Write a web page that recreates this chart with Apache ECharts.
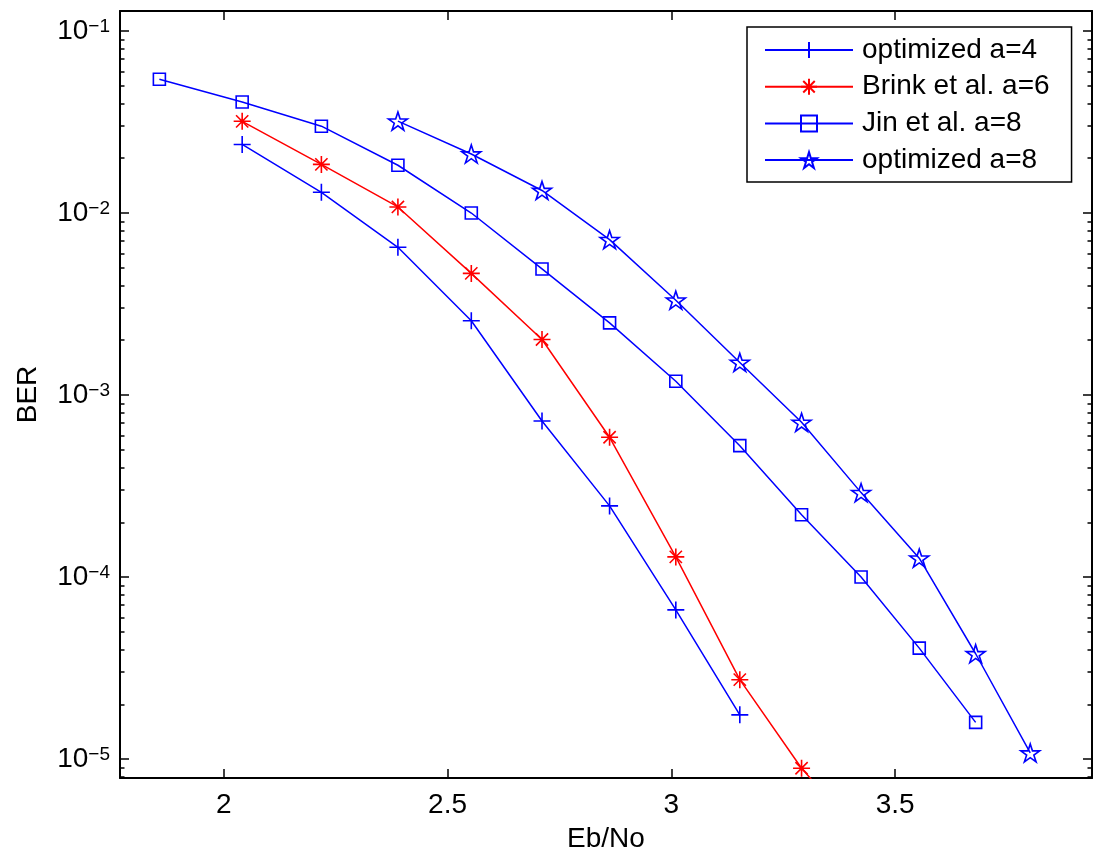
<!DOCTYPE html>
<html><head><meta charset="utf-8">
<script src="https://cdn.jsdelivr.net/npm/echarts@6/dist/echarts.min.js"></script>
<style>html,body{margin:0;padding:0;background:#fff;} #chart{width:1094px;height:857px;}</style>
</head><body><div id="chart"></div>
<script>
// ---- data ----
const xOptA4 = [2.041, 2.218, 2.389, 2.553, 2.711, 2.862, 3.010, 3.153];
const berOptA4 = [0.0238, 0.0130, 0.00648, 0.00256, 7.2e-4, 2.46e-4, 6.6e-5, 1.75e-5];

const xBrink = [2.041, 2.218, 2.389, 2.553, 2.711, 2.862, 3.010, 3.153, 3.291, 3.424];
const berBrink = [0.0319, 0.0185, 0.0108, 0.00466, 0.00202, 5.86e-4, 1.29e-4, 2.73e-5, 8.9e-6, 3.8e-6];

const xJin = [1.856, 2.041, 2.218, 2.389, 2.553, 2.711, 2.862, 3.010, 3.153, 3.291, 3.424, 3.554, 3.680];
const berJin = [0.0543, 0.0407, 0.0300, 0.0183, 0.0100, 0.00493, 0.00249, 0.00119, 5.27e-4, 2.2e-4, 1.0e-4, 4.07e-5, 1.59e-5];

const xOptA8 = [2.389, 2.553, 2.711, 2.862, 3.010, 3.153, 3.291, 3.424, 3.554, 3.680, 3.802];
const berOptA8 = [0.0320, 0.0211, 0.0133, 0.00714, 0.00332, 0.00151, 7.08e-4, 2.91e-4, 1.27e-4, 3.79e-5, 1.08e-5];

const seriesNames = ['optimized a=4', 'Brink et al. a=6', 'Jin et al. a=8', 'optimized a=8'];
const xRange = [1.768, 3.94];
const yRange = [7.87e-6, 0.1288];
const xTicks = [2, 2.5, 3, 3.5];
const minorMantissas = [2, 3, 4, 5, 6, 7, 8, 9];
const minorDecades = [-6, -5, -4, -3, -2, -1];

// ---- styling ----
const FONT = '"Liberation Sans", Arial, Helvetica, sans-serif';
const BLUE = '#0000ff', RED = '#ff0000';
const SYM_PLUS = 'path://M0,-1L0,1M-1,0L1,0';
const SYM_AST = 'path://M0,-1L0,1M-1,0L1,0M-0.72,-0.72L0.72,0.72M-0.72,0.72L0.72,-0.72';
const SYM_STAR = 'path://M0,-1L0.2245,-0.309L0.951,-0.309L0.3633,0.118L0.5878,0.809L0,0.382L-0.5878,0.809L-0.3633,0.118L-0.951,-0.309L-0.2245,-0.309Z';

const minorLog = [];
minorDecades.forEach(n => minorMantissas.forEach(m => {
  const v = m * Math.pow(10, n);
  if (v > yRange[0] && v < yRange[1]) minorLog.push(Math.log10(v));
}));

function mk(name, xs, ys, color, symbol, size) {
  return {
    type: 'line', name: name,
    data: xs.map((x, i) => [x, ys[i]]),
    xAxisIndex: 0, yAxisIndex: 0,
    symbol: symbol, symbolSize: size,
    color: color,
    lineStyle: { color: color, width: 1.5 },
    itemStyle: { color: 'none', borderColor: color, borderWidth: 1.6 },
    clip: true, animation: false
  };
}

const axisLineStyle = { show: true, onZero: false, lineStyle: { color: '#000', width: 2 } };
const majorTick = (vals) => ({ show: true, inside: true, length: 9, lineStyle: { color: '#000', width: 1.5 }, customValues: vals });

function yLabel(v) {
  const e = Math.log10(v);
  const r = Math.round(e);
  if (Math.abs(e - r) > 1e-3) return '';
  return '{b|10}{s|\u2212' + Math.abs(r) + '}';
}

const option = {
  backgroundColor: '#fff',
  animation: false,
  textStyle: { fontFamily: FONT, color: '#000' },
  grid: { left: 120, right: 2, top: 11, bottom: 79, containLabel: false, outerBoundsMode: 'none' },
  legend: {
    data: seriesNames,
    orient: 'vertical', left: 747, top: 27,
    itemWidth: 88, itemHeight: 20, itemGap: 8.7,
    padding: [9, 22, 8, 17],
    backgroundColor: '#fff', borderColor: '#000', borderWidth: 1.5,
    textStyle: { fontSize: 28, fontFamily: FONT, color: '#000', padding: [0, 0, 0, 4] },
    selectedMode: false
  },
  xAxis: [
    {
      type: 'value', min: xRange[0], max: xRange[1], position: 'bottom',
      axisLine: axisLineStyle, axisTick: majorTick(xTicks),
      axisLabel: { customValues: xTicks, fontSize: 28, fontFamily: FONT, color: '#000', margin: 13 },
      splitLine: { show: false },
      name: 'Eb/No', nameLocation: 'middle', nameGap: 47,
      nameTextStyle: { fontSize: 28, fontFamily: FONT, color: '#000' }
    },
    {
      type: 'value', min: xRange[0], max: xRange[1], position: 'top',
      axisLine: axisLineStyle, axisTick: majorTick(xTicks),
      axisLabel: { show: false }, splitLine: { show: false }
    }
  ],
  yAxis: [
    {
      type: 'log', min: yRange[0], max: yRange[1], position: 'left', logBase: 10,
      axisLine: axisLineStyle,
      axisTick: { show: true, inside: true, length: 9, lineStyle: { color: '#000', width: 1.5 } },
      axisLabel: {
        formatter: yLabel, margin: 10, color: '#000',
        rich: {
          b: { fontSize: 28, fontFamily: FONT, color: '#000', lineHeight: 28, padding: [10, 0, 0, 0], verticalAlign: 'bottom' },
          s: { fontSize: 19, fontFamily: FONT, color: '#000', lineHeight: 19, verticalAlign: 'top' }
        }
      },
      splitLine: { show: false }, minorTick: { show: false },
      name: 'BER', nameLocation: 'middle', nameGap: 78, nameRotate: 90,
      nameTextStyle: { fontSize: 28, fontFamily: FONT, color: '#000' }
    },
    {
      type: 'log', min: yRange[0], max: yRange[1], position: 'right', logBase: 10,
      axisLine: axisLineStyle,
      axisTick: { show: true, inside: true, length: 9, lineStyle: { color: '#000', width: 1.5 } },
      axisLabel: { show: false }, splitLine: { show: false }
    },
    {
      type: 'value', min: Math.log10(yRange[0]), max: Math.log10(yRange[1]), position: 'left',
      axisLine: { show: false, onZero: false },
      axisTick: { show: true, inside: true, length: 4.5, lineStyle: { color: '#000', width: 1.5 }, customValues: minorLog },
      axisLabel: { show: false }, splitLine: { show: false }
    },
    {
      type: 'value', min: Math.log10(yRange[0]), max: Math.log10(yRange[1]), position: 'right',
      axisLine: { show: false, onZero: false },
      axisTick: { show: true, inside: true, length: 4.5, lineStyle: { color: '#000', width: 1.5 }, customValues: minorLog },
      axisLabel: { show: false }, splitLine: { show: false }
    }
  ],
  series: [
    mk(seriesNames[0], xOptA4, berOptA4, BLUE, SYM_PLUS, 17),
    mk(seriesNames[1], xBrink, berBrink, RED, SYM_AST, 17),
    mk(seriesNames[2], xJin, berJin, BLUE, 'rect', 12),
    mk(seriesNames[3], xOptA8, berOptA8, BLUE, SYM_STAR, [19, 18])
  ]
};

const chart = echarts.init(document.getElementById('chart'), null, { renderer: 'canvas' });
chart.setOption(option);
</script>
</body></html>
